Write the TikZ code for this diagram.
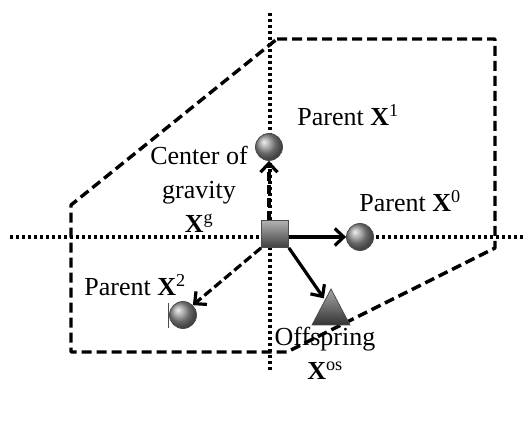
\documentclass[tikz,border=0pt]{standalone}
\usepackage{fontspec}
\setmainfont{Liberation Serif}
\usetikzlibrary{arrows.meta}
\begin{document}
\begin{tikzpicture}[x=1pt,y=-1pt,
  lbl/.style={font=\fontsize{26}{34}\selectfont, inner sep=0pt, align=center},
  axis/.style={line width=3.4pt, dash pattern=on 3pt off 3pt},
  region/.style={line width=3.4pt, dash pattern=on 10pt off 5pt, line join=round},
  parent/.style={circle, minimum size=27pt, inner sep=0pt, ball color=gray!85, draw=black!70, line width=0.8pt},
  move/.style={line width=3.2pt, -{Straight Barb[length=9pt,width=17pt,line width=3.2pt]}},
  movedash/.style={move, dash pattern=on 9pt off 4pt}]
\useasboundingbox (0,0) rectangle (523,441);
% search region
\draw[region] (277,39) -- (495,39) -- (495,248) -- (287,352) -- (71,352) -- (71,205) -- cycle;
% coordinate axes
\coordinate (axL) at (10,237);
\coordinate (axR) at (523,237);
\coordinate (axT) at (270,13);
\coordinate (axB) at (270,372);
\draw[axis] (axL) -- (axR);
\draw[axis] (axT) -- (axB);
% points
\node[parent] (x1) at (269,147) {};
\node[parent] (x0) at (360,237) {};
\node[parent] (x2) at (183,315) {};
\node[minimum size=27pt, inner sep=0pt, draw=black!70, line width=0.8pt,
      top color=gray!60, bottom color=black!75] (g) at (275,234) {};
\path[top color=gray!70, bottom color=black!80, draw=black!70, line width=0.8pt]
  (331,289) -- (350,325) -- (312,325) -- cycle;
\coordinate (os) at (325,300);
% cursor mark
\coordinate (c1) at (168,303);
\coordinate (c2) at (168,328);
\draw[line width=0.8pt, black!70] (c1) -- (c2);
% moves
\draw[movedash] (g.north -| x1) -- (x1.south);
\draw[move] (g.east |- x0) -- (x0.west);
\draw[movedash] (g.south west) -- (x2.north east);
\draw[move, shorten >=2pt] (g.south east) -- (os);
% labels
\node[lbl] (t1) at (348,115) {Parent \textbf{X}\textsuperscript{1}};
\node[lbl] (tg) at (199,189) {Center of\\gravity\\\textbf{X}\textsuperscript{g}};
\node[lbl] (t0) at (410,201) {Parent \textbf{X}\textsuperscript{0}};
\node[lbl] (t2) at (135,285) {Parent \textbf{X}\textsuperscript{2}};
\node[lbl] (tos) at (325,353) {Offspring\\\textbf{X}\textsuperscript{os}};
\end{tikzpicture}
\end{document}
